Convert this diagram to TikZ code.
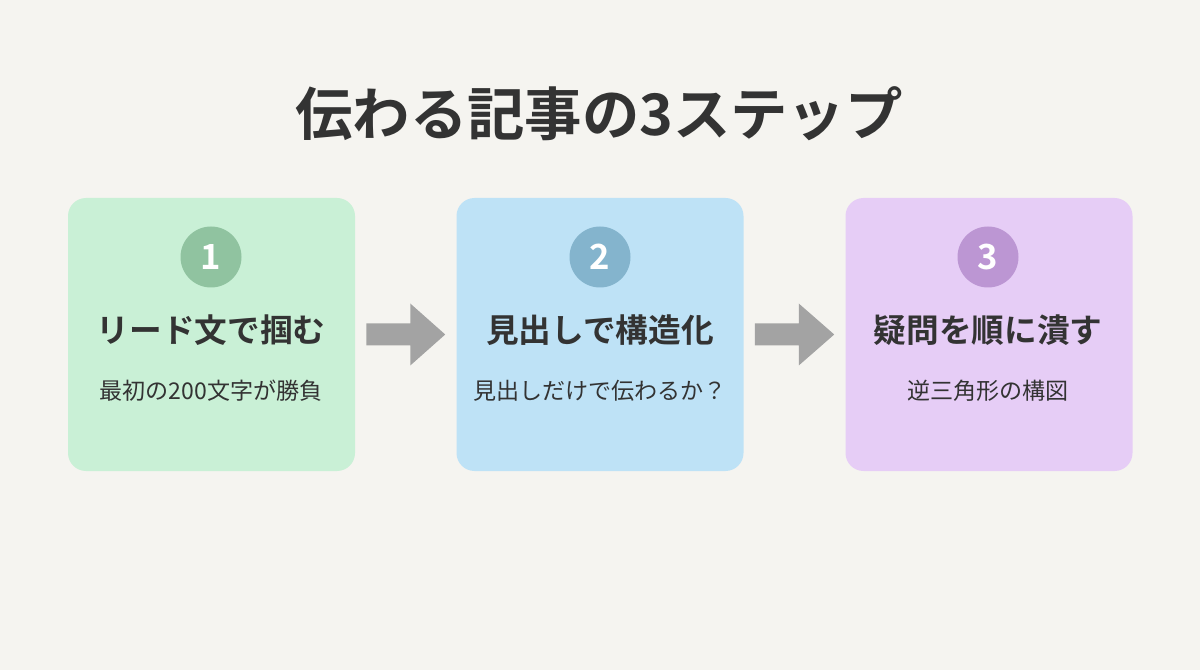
\documentclass[tikz,border=0pt]{standalone}
\usepackage{fontspec}
\setmainfont{Noto Sans CJK JP}[BoldFont={Noto Sans CJK JP Bold}]
\usetikzlibrary{calc}
\definecolor{bg}{HTML}{F5F4F0}
\definecolor{txt}{HTML}{333333}
\definecolor{gbox}{HTML}{C9F0D6}
\definecolor{gcirc}{HTML}{90C3A0}
\definecolor{bbox}{HTML}{BEE2F6}
\definecolor{bcirc}{HTML}{84B4CD}
\definecolor{pbox}{HTML}{E6CDF6}
\definecolor{pcirc}{HTML}{BC96D3}
\definecolor{arr}{HTML}{A3A3A3}
\tikzset{
  card/.style={draw=none, rounded corners=13.5pt, minimum width=215.25pt, minimum height=204.75pt, inner sep=0pt},
  numcirc/.style={circle, draw=none, minimum size=45.75pt, inner sep=0pt, text=white, font=\bfseries\fontsize{26}{30}\selectfont},
  cardtitle/.style={text=txt, font=\bfseries\fontsize{24.5}{28}\selectfont, inner sep=0pt},
  cardsub/.style={text=txt, font=\fontsize{17.3}{21}\selectfont, inner sep=0pt},
  bigtitle/.style={text=txt, font=\bfseries\fontsize{43}{49}\selectfont, inner sep=0pt},
  blockarrow/.style={fill=arr, draw=none}
}
\begin{document}
\begin{tikzpicture}[x=0.75pt,y=-0.75pt]
\fill[bg] (0,0) rectangle (1200,670);
\useasboundingbox (0,0) rectangle (1200,670);

\node[bigtitle] (title) at (599,114) {伝わる記事の3ステップ};

\node[card, fill=gbox] (b1) at (211.5,334.5) {};
\node[card, fill=bbox] (b2) at (600,334.5) {};
\node[card, fill=pbox] (b3) at (989,334.5) {};

\node[numcirc, fill=gcirc] (n1) at (211,257) {1};
\node[numcirc, fill=bcirc] (n2) at (600,257) {2};
\node[numcirc, fill=pcirc] (n3) at (988,257) {3};

\node[cardtitle] (t1) at (211,330) {リード文で掴む};
\node[cardtitle] (t2) at (600,330) {見出しで構造化};
\node[cardtitle] (t3) at (988,330) {疑問を順に潰す};

\node[cardsub] (s1) at (211,391) {最初の200文字が勝負};
\node[cardsub] (s2) at (600,391) {見出しだけで伝わるか？};
\node[cardsub] (s3) at (988,391) {逆三角形の構図};

\foreach \a/\b in {b1/b2, b2/b3}{
  \fill[blockarrow] ($(\a.east)+(11,-11)$) -- ($(\a.east)+(55,-11)$) -- ($(\a.east)+(55,-31)$)
     -- ($(\b.west)+(-11,0)$) -- ($(\a.east)+(55,31)$) -- ($(\a.east)+(55,11)$) -- ($(\a.east)+(11,11)$) -- cycle;
}
\end{tikzpicture}
\end{document}
